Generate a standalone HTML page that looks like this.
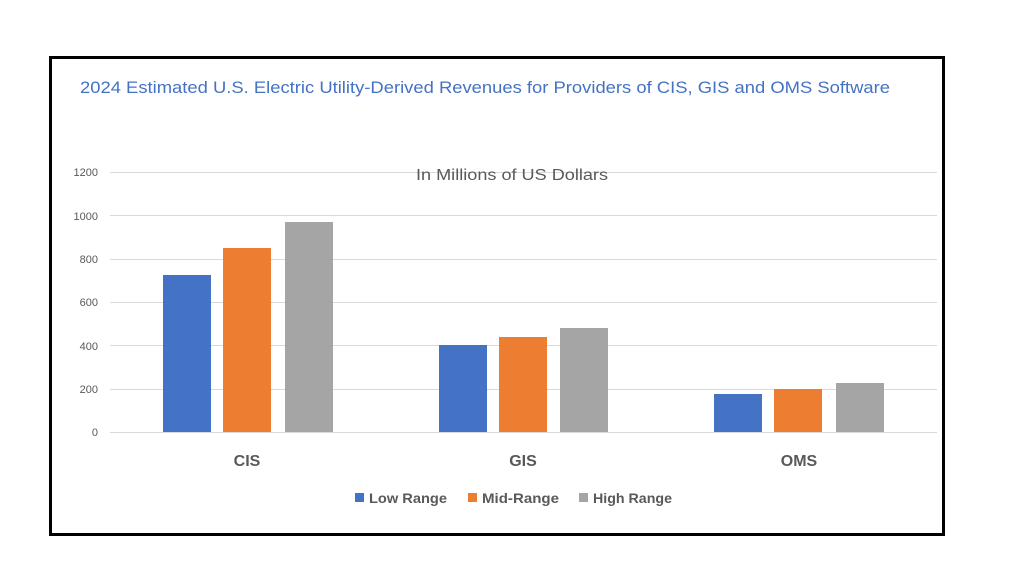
<!DOCTYPE html>
<html><head><meta charset="utf-8"><style>
html,body{margin:0;padding:0;background:#fff;}
body{width:1024px;height:576px;overflow:hidden;}
</style></head><body>
<svg width="1024" height="576" xmlns="http://www.w3.org/2000/svg" font-family="Liberation Sans, sans-serif">
<rect x="50.5" y="57.5" width="893" height="477" fill="#fff" stroke="#000" stroke-width="3"/>
<text x="80" y="93" font-size="17" fill="#4472c4" textLength="810" lengthAdjust="spacingAndGlyphs">2024 Estimated U.S. Electric Utility-Derived Revenues for Providers of CIS, GIS and OMS Software</text>
<g stroke="#d9d9d9" stroke-width="1">
<line x1="110" x2="937" y1="172.5" y2="172.5"/>
<line x1="110" x2="937" y1="215.5" y2="215.5"/>
<line x1="110" x2="937" y1="259.5" y2="259.5"/>
<line x1="110" x2="937" y1="302.5" y2="302.5"/>
<line x1="110" x2="937" y1="345.5" y2="345.5"/>
<line x1="110" x2="937" y1="389.5" y2="389.5"/>
<line x1="110" x2="937" y1="432.5" y2="432.5"/>
</g>
<text x="416" y="180" font-size="16" fill="#595959" textLength="192" lengthAdjust="spacingAndGlyphs">In Millions of US Dollars</text>
<g font-size="11" fill="#595959" text-anchor="end">
<text x="98" y="176">1200</text><text x="98" y="220">1000</text><text x="98" y="263">800</text>
<text x="98" y="306">600</text><text x="98" y="350">400</text><text x="98" y="393">200</text><text x="98" y="436">0</text>
</g>
<rect x="163" y="275" width="48" height="157" fill="#4472c4"/>
<rect x="223" y="248" width="48" height="184" fill="#ed7d31"/>
<rect x="285" y="222" width="48" height="210" fill="#a5a5a5"/>
<rect x="439" y="345" width="48" height="87" fill="#4472c4"/>
<rect x="499" y="337" width="48" height="95" fill="#ed7d31"/>
<rect x="560" y="328" width="48" height="104" fill="#a5a5a5"/>
<rect x="714" y="394" width="48" height="38" fill="#4472c4"/>
<rect x="774" y="389" width="48" height="43" fill="#ed7d31"/>
<rect x="836" y="383" width="48" height="49" fill="#a5a5a5"/>
<g font-size="16" font-weight="bold" fill="#595959" text-anchor="middle">
<text x="247" y="466">CIS</text><text x="523" y="466">GIS</text><text x="799" y="466">OMS</text>
</g>
<g font-size="14" font-weight="bold" fill="#595959">
<rect x="355" y="493" width="9" height="9" fill="#4472c4"/><text x="369" y="503" textLength="78" lengthAdjust="spacingAndGlyphs">Low Range</text>
<rect x="468" y="493" width="9" height="9" fill="#ed7d31"/><text x="482" y="503" textLength="77" lengthAdjust="spacingAndGlyphs">Mid-Range</text>
<rect x="579" y="493" width="9" height="9" fill="#a5a5a5"/><text x="593" y="503" textLength="79" lengthAdjust="spacingAndGlyphs">High Range</text>
</g>
</svg>
</body></html>
